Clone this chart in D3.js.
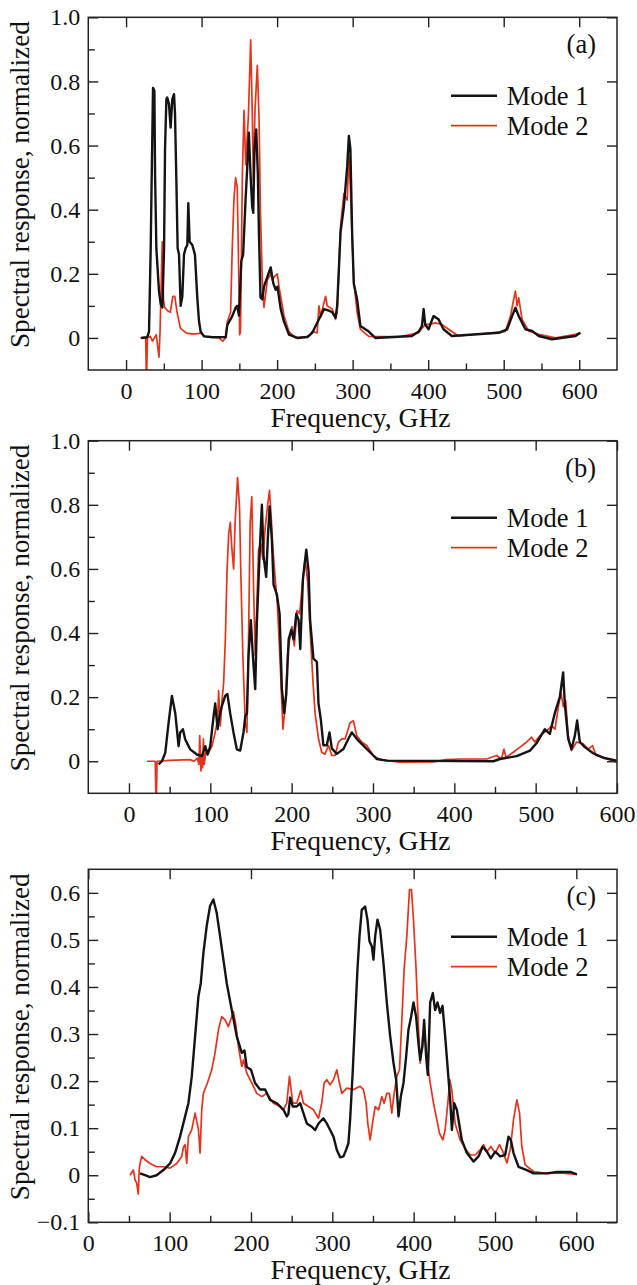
<!DOCTYPE html>
<meta charset="utf-8">
<style>
    body { margin: 0; background: #fff; }
    svg text { font-family: "Liberation Serif", "DejaVu Serif", Tinos, "Times New Roman", Times, serif; fill: #111; }
    .frame { fill: none; stroke: #222; stroke-width: 1.5px; }
    .axis path { display: none; }
    .axis line { stroke: #222; stroke-width: 1.4px; }
    .axis text { font-size: 24px; }
    .mode1 { fill: none; stroke: #141414; stroke-width: 2.4px; stroke-linejoin: round; }
    .mode2 { fill: none; stroke: #e8321c; stroke-width: 1.7px; stroke-linejoin: round; }
</style>
<svg width="637" height="1285"></svg>
<script src="https://cdn.jsdelivr.net/npm/d3@7"></script>
<script>

    // tick values
    const xTicksMajor = [0, 100, 200, 300, 400, 500, 600];
    const xTicksMinor = [50, 150, 250, 350, 450, 550];
    const yTicksAB = [0, 0.2, 0.4, 0.6, 0.8, 1.0];
    const yTicksMinorAB = [0.1, 0.3, 0.5, 0.7, 0.9];
    const yTicksC = [-0.1, 0, 0.1, 0.2, 0.3, 0.4, 0.5, 0.6];
    const yTicksMinorC = [-0.05, 0.05, 0.15, 0.25, 0.35, 0.45, 0.55];

    const modeNames = ["Mode 1", "Mode 2"];
    const panelLabels = ["(a)", "(b)", "(c)"];

    // (a) Mode 1: [frequency GHz, response]
    const specA1 = [[20,0],[28,0.002],[30.4,0.02],[32.6,0.28],[34,0.51],[35.7,0.78],[37.5,0.77],[38.4,0.51],[40.1,0.28],
        [43.6,0.146],[45.9,0.105],[48.1,0.095],[50.3,0.28],[51.6,0.59],[53.4,0.745],[54.6,0.75],[56.8,0.73],[59,0.656],
        [61.2,0.745],[63.5,0.76],[64.8,0.7],[66.6,0.49],[68.3,0.28],[70.1,0.26],[72.3,0.1],[74.5,0.13],[76.7,0.26],
        [78.9,0.28],[81.1,0.29],[82.4,0.42],[84.2,0.3],[87.7,0.29],[91.2,0.26],[94.3,0.126],[96.5,0.054],[98.7,0.02],
        [103.1,0.005],[115,0.002],[132,0.003],[134,0.04],[140.6,0.068],[145,0.094],[147,0.1],[149.5,0.07],[152.6,0.24],
        [155,0.26],[158.2,0.43],[160.4,0.53],[162.6,0.64],[164.8,0.51],[167,0.41],[168.4,0.39],[170,0.59],[172.3,0.65],
        [174.5,0.51],[175.9,0.33],[178,0.126],[180.4,0.12],[182.6,0.16],[187,0.19],[191.5,0.22],[195,0.17],[198.1,0.15],
        [200.4,0.16],[204.8,0.09],[209.2,0.05],[215.8,0.01],[226.9,0],[240,0.003],[246.5,0.016],[255.4,0.058],[257.6,0.068],
        [262,0.09],[268.6,0.085],[273,0.08],[277.3,0.063],[279.5,0.1],[284,0.33],[288.4,0.41],[292.8,0.535],[295,0.63],
        [297,0.59],[299.3,0.33],[301.5,0.17],[305.9,0.12],[310.3,0.037],[321.3,0.02],[330,0],[378.5,0.006],[387.3,0.02],
        [391.7,0.037],[394,0.09],[396,0.042],[400.5,0.027],[407,0.068],[413.7,0.058],[420.3,0.027],[431.3,0.006],
        [493.4,0.016],[504.5,0.027],[511.1,0.068],[515.5,0.094],[519.9,0.068],[528.8,0.027],[537.5,0.022],[546.4,0.006],
        [564,-0.004],[595,0.006],[601.4,0.016]];

    // (a) Mode 2
    const specA2 = [[19,0],[26,0.002],[27,-0.15],[28.3,0],[32,0.005],[35,-0.01],[40,0.01],[43.6,-0.06],[45,0.02],
        [47.9,0.3],[49.5,0.12],[51,0.095],[55,0.085],[58.5,0.08],[62,0.13],[64.5,0.13],[67.5,0.08],[72,0.03],[80,0.015],
        [90,0.012],[99,0.015],[105,0.005],[115,0.003],[123,0],[128,-0.01],[132,0],[134,0.05],[138.4,0.08],[140.6,0.28],
        [142.8,0.43],[145,0.5],[147.2,0.47],[148.6,0.28],[150.4,0.01],[151.5,0.02],[154,0.51],[156.2,0.71],[158.4,0.54],
        [161.9,0.69],[165,0.93],[167.2,0.69],[168.5,0.49],[170.7,0.71],[173.8,0.85],[176,0.69],[178,0.385],[180.4,0.18],
        [182.6,0.095],[187,0.18],[191.5,0.2],[193.7,0.18],[195.9,0.19],[200.3,0.2],[202.5,0.16],[209,0.07],[215.6,0.02],
        [224.4,0],[242,0.005],[246.5,0.02],[253,0.016],[255.4,0.1],[257.6,0.068],[264.2,0.13],[266.4,0.1],[273,0.09],
        [277.3,0.058],[279.5,0.08],[284,0.35],[288.4,0.45],[292.8,0.43],[295,0.567],[297,0.47],[299.3,0.31],[301.5,0.18],
        [305.9,0.08],[310.3,0.027],[321.3,0.005],[360,0.003],[387.3,0.016],[396,0.042],[400.5,0.042],[409.3,0.047],
        [418,0.042],[427,0.027],[440,0.006],[502,0.02],[509,0.068],[513.2,0.12],[515.5,0.146],[517.7,0.1],[519.9,0.125],
        [524.3,0.058],[533,0.022],[546.4,0.011],[568.6,0],[595,0.011],[601.4,0.016]];

    // (b) Mode 1
    const specB1 = [[36.4,-0.01],[40.5,0],[44.6,0.026],[48.7,0.12],[52.8,0.204],[56.9,0.15],[61,0.047],[63,0.09],
        [66.3,0.1],[69.2,0.068],[75.3,0.037],[83.5,0.021],[89.7,0.016],[93.8,0.047],[96.6,0.021],[99.9,0.047],[104,0.14],
        [106,0.18],[109,0.1],[111.3,0.14],[114,0.17],[118.3,0.204],[121,0.21],[124.4,0.15],[128.5,0.09],[132.6,0.037],
        [136.7,0.033],[140.8,0.09],[143,0.14],[145,0.15],[147,0.33],[149.8,0.44],[152.3,0.33],[155.2,0.225],[157.2,0.43],
        [160.5,0.64],[163.4,0.8],[165.5,0.64],[168.7,0.575],[170.8,0.7],[172.9,0.795],[175.7,0.69],[177.8,0.55],
        [181.9,0.52],[185.2,0.46],[188,0.225],[190.9,0.15],[193.4,0.21],[196.3,0.38],[199.6,0.41],[202.4,0.38],
        [205.7,0.46],[208.6,0.44],[210.6,0.35],[213.9,0.57],[218,0.66],[220.9,0.59],[222.7,0.44],[226.8,0.32],[231,0.31],
        [233,0.18],[235.9,0.13],[239,0.05],[243.2,0.05],[246.5,0.09],[249.4,0.04],[255.5,0.023],[263.7,0.038],
        [269.8,0.07],[274,0.09],[280,0.07],[288.2,0.049],[296.4,0.028],[304.6,0.007],[317,0.002],[448,0],[456,0.007],
        [476.6,0.016],[493,0.033],[501,0.056],[511.3,0.1],[517.4,0.085],[523.5,0.15],[529.7,0.2],[533.8,0.277],
        [535.8,0.18],[540,0.07],[544,0.038],[548.2,0.08],[551,0.127],[554.3,0.06],[560.4,0.044],[570.7,0.025],
        [583,0.011],[599.5,0.002]];

    // (b) Mode 2
    const specB2 = [[22,0],[32.3,0],[33.5,-0.15],[34.5,0],[50,0.003],[75,0.005],[80,0],[84,0.01],[86,-0.01],[87,0.08],
        [88.5,-0.03],[89.5,0.02],[90.5,-0.02],[91.5,0.07],[92.5,-0.01],[95,0.037],[97.8,0.026],[102,0.047],[106,0.09],
        [109,0.13],[110.2,0.22],[112.3,0.11],[114.4,0.19],[116.4,0.245],[118.5,0.38],[120.5,0.59],[122.6,0.71],
        [124.6,0.745],[126.6,0.66],[128.7,0.6],[130.5,0.745],[133.5,0.885],[135.9,0.795],[137.5,0.59],[140,0.33],
        [142.9,0.12],[145,0.09],[147,0.38],[149,0.745],[151,0.825],[153.2,0.54],[155.2,0.33],[157.2,0.48],[159.3,0.66],
        [162.1,0.68],[164.6,0.63],[167.5,0.73],[170.3,0.795],[172.8,0.845],[174.9,0.76],[177,0.66],[179.8,0.57],
        [182.7,0.48],[186,0.3],[189.3,0.1],[192.1,0.17],[195,0.33],[197.5,0.38],[200.4,0.42],[203.3,0.36],[206.6,0.47],
        [209.9,0.46],[212.7,0.54],[216.5,0.63],[219.7,0.56],[222.9,0.4],[226.2,0.25],[228.8,0.15],[233,0.07],[237,0.028],
        [241,0.022],[245.3,0.049],[249.4,0.018],[253.5,0.018],[257.6,0.06],[261.7,0.07],[265.8,0.07],[271.9,0.12],
        [276,0.126],[280,0.08],[286,0.06],[292.3,0.049],[300.5,0.018],[308.7,0.005],[333,-0.003],[374,-0.002],
        [390.5,0.005],[407,0.007],[439.7,0.007],[452,0.018],[458,0.007],[461,0.038],[463.5,0.012],[472.5,0.028],
        [480.7,0.044],[489,0.06],[495,0.075],[499,0.06],[505.4,0.08],[513.6,0.095],[519.7,0.11],[523.8,0.1],
        [527.9,0.17],[531,0.215],[534,0.17],[536.8,0.19],[540,0.08],[544,0.033],[550.3,0.06],[558.5,0.054],
        [564.6,0.038],[570,0.049],[574,0.018],[583,0.012],[599.5,-0.003]];

    // (c) Mode 1
    const specC1 = [[63.6,0.004],[69.8,0],[75.9,-0.004],[84,0],[92.3,0.011],[100.5,0.025],[106.6,0.047],[112.8,0.082],
        [119,0.125],[123.1,0.153],[127.2,0.21],[131.3,0.295],[135.4,0.38],[138.3,0.408],[141.5,0.472],[145.6,0.53],
        [149.7,0.572],[153.8,0.586],[157.9,0.557],[162,0.508],[166.1,0.458],[170.2,0.408],[176.4,0.351],[182.5,0.295],
        [188.7,0.26],[192,0.265],[194.8,0.23],[200.1,0.224],[205,0.196],[211.2,0.182],[217.4,0.182],[223.5,0.16],
        [231.7,0.153],[239.9,0.139],[244,0.125],[246,0.13],[248.1,0.165],[251.4,0.146],[256.3,0.146],[260.4,0.153],
        [264.5,0.132],[268.6,0.11],[274.8,0.103],[278.9,0.096],[283,0.11],[289.1,0.121],[293.2,0.11],[297.3,0.096],
        [301.4,0.082],[305.5,0.054],[309.6,0.038],[313.7,0.04],[316.9,0.054],[319.8,0.068],[321.9,0.118],[325.2,0.224],
        [328,0.33],[330.9,0.437],[333.4,0.508],[336.2,0.564],[340.3,0.571],[343.2,0.543],[345.7,0.497],[348.6,0.486],
        [350.6,0.458],[352.7,0.508],[355.5,0.543],[358.8,0.522],[362.9,0.451],[367,0.367],[371.1,0.296],[375.2,0.239],
        [378.5,0.203],[381.4,0.125],[384.2,0.167],[387.5,0.196],[390.8,0.253],[393.6,0.309],[396.9,0.337],[399.8,0.367],
        [403,0.337],[405.9,0.28],[408,0.245],[410.8,0.274],[412.9,0.33],[415.3,0.253],[417.4,0.213],[420.3,0.367],
        [423.6,0.387],[426.4,0.351],[429.3,0.367],[432.6,0.345],[435.5,0.36],[438.7,0.296],[442,0.224],[444.9,0.16],
        [447,0.096],[449.8,0.153],[453.1,0.139],[457.2,0.096],[459.2,0.075],[465.4,0.047],[473.6,0.029],[479.7,0.04],
        [485,0.061],[490,0.05],[494.9,0.036],[500.3,0.05],[506.4,0.04],[512.5,0.043],[516.6,0.082],[519.5,0.075],
        [522.8,0.047],[528.9,0.018],[539.2,0.011],[547.4,0.004],[563.8,0.004],[576.1,0.007],[592.5,0.007],[600.7,0.002]];

    // (c) Mode 2
    const specC2 = [[51.3,0],[55.4,0.011],[57.5,-0.01],[59.5,-0.017],[61.5,-0.04],[62.5,0.01],[63.6,0.025],[65.6,0.04],
        [69.8,0.033],[75.9,0.025],[84,0.018],[92.3,0.018],[100.5,0.015],[108.7,0.025],[114.9,0.04],[117,0.06],[119,0.065],
        [121,0.025],[123.1,0.082],[127.2,0.097],[131.3,0.132],[135.4,0.097],[137.4,0.047],[139.5,0.14],[141.5,0.174],
        [146.4,0.196],[151.8,0.224],[155.8,0.26],[160,0.309],[164,0.337],[168.1,0.33],[172.2,0.316],[176.4,0.337],
        [178.4,0.348],[181.7,0.316],[184.5,0.274],[188.7,0.231],[190.7,0.245],[194.8,0.217],[201,0.196],[207.1,0.174],
        [213.3,0.167],[219.4,0.174],[227.6,0.153],[235.8,0.146],[239.9,0.139],[244,0.153],[247.3,0.21],[251.4,0.153],
        [256.3,0.153],[261.2,0.18],[264.5,0.153],[270.7,0.146],[276.8,0.139],[283,0.121],[287,0.153],[290,0.196],
        [293.2,0.203],[297.3,0.192],[301.4,0.203],[305.5,0.224],[308.8,0.196],[311.6,0.174],[317.8,0.185],[326,0.182],
        [334.2,0.189],[338.3,0.182],[341.6,0.153],[343.6,0.11],[346.5,0.075],[349.4,0.11],[352.7,0.146],[356.8,0.139],
        [360.9,0.167],[363.7,0.153],[367,0.174],[370.3,0.174],[373.1,0.132],[376,0.174],[379.3,0.21],[382.6,0.224],
        [385.5,0.33],[388.3,0.437],[391.6,0.508],[394.9,0.607],[397.3,0.607],[399.8,0.543],[403,0.437],[405.5,0.33],
        [408,0.238],[411.3,0.296],[414.1,0.288],[417,0.238],[420.3,0.196],[424.4,0.153],[428.5,0.118],[431.8,0.089],
        [435.9,0.075],[438.7,0.096],[442,0.153],[444.5,0.203],[447,0.18],[451,0.11],[457.2,0.075],[463.3,0.057],
        [469.5,0.043],[475.6,0.043],[481.8,0.054],[485.9,0.065],[490,0.05],[494.9,0.061],[500.3,0.047],[505.6,0.065],
        [510.5,0.047],[514.6,0.026],[518.7,0.054],[522.8,0.118],[526.9,0.16],[530.2,0.132],[533,0.061],[537.1,0.022],
        [547.4,0.008],[563.8,0.004],[580.2,0.005],[600.7,0.002]];

    var serif = "'Liberation Serif', 'DejaVu Serif', Tinos, 'Times New Roman', Times, serif";

    var svg = d3.select("svg");

    var left = 88.3, right = 617;

    var panels = [
        { top: 17.3, bottom: 370, xDom: [-50, 650], yDom: [-0.1, 1.0], yMajor: yTicksAB, yMinor: yTicksMinorAB,
          series: [specA1, specA2], legendDy: 78.4 },
        { top: 440.7, bottom: 793.3, xDom: [-50, 600], yDom: [-0.1, 1.0], yMajor: yTicksAB, yMinor: yTicksMinorAB,
          series: [specB1, specB2], legendDy: 77 },
        { top: 869.3, bottom: 1222.3, xDom: [0, 650], yDom: [-0.1, 0.65], yMajor: yTicksC, yMinor: yTicksMinorC,
          series: [specC1, specC2], legendDy: 67.4 }
    ];

    function fmtY(d) {
        if (Math.abs(d) < 1e-9) return "0";
        return (d < 0 ? "\u2212" : "") + Math.abs(d).toFixed(1);
    }

    function styleAxis(sel) {
        sel.attr("font-family", serif).attr("font-size", 24);
        sel.selectAll("text").attr("font-family", serif).style("font-family", serif).style("font-size", "24px");
    }

    panels.forEach(function(p, i) {
        var x = d3.scaleLinear().domain(p.xDom).range([left, right]);
        var y = d3.scaleLinear().domain(p.yDom).range([p.bottom, p.top]);
        var g = svg.append("g");

        // clip curves to the frame
        var clipId = "clip" + i;
        svg.append("clipPath").attr("id", clipId)
            .append("rect")
                .attr("x", left).attr("y", p.top)
                .attr("width", right - left).attr("height", p.bottom - p.top);

        var line = d3.line()
            .x(function(d) { return x(d[0]); })
            .y(function(d) { return y(d[1]); });

        g.append("path").datum(p.series[1]).attr("class", "mode2")
            .attr("clip-path", "url(#" + clipId + ")").attr("d", line);
        g.append("path").datum(p.series[0]).attr("class", "mode1")
            .attr("clip-path", "url(#" + clipId + ")").attr("d", line);

        // inward ticks on all four sides
        g.append("g").attr("class", "axis").attr("transform", "translate(0," + p.bottom + ")")
            .call(d3.axisBottom(x).tickValues(xTicksMajor).tickSize(-10).tickPadding(12).tickFormat(d3.format("d")))
            .call(styleAxis);
        g.append("g").attr("class", "axis").attr("transform", "translate(0," + p.bottom + ")")
            .call(d3.axisBottom(x).tickValues(xTicksMinor).tickSize(-6.5).tickFormat(""));
        g.append("g").attr("class", "axis").attr("transform", "translate(0," + p.top + ")")
            .call(d3.axisTop(x).tickValues(xTicksMajor).tickSize(-10).tickFormat(""));

        g.append("g").attr("class", "axis").attr("transform", "translate(" + left + ",0)")
            .call(d3.axisLeft(y).tickValues(p.yMajor).tickSize(-10).tickPadding(8).tickFormat(fmtY))
            .call(styleAxis);
        g.append("g").attr("class", "axis").attr("transform", "translate(" + left + ",0)")
            .call(d3.axisLeft(y).tickValues(p.yMinor).tickSize(-6.5).tickFormat(""));
        g.append("g").attr("class", "axis").attr("transform", "translate(" + right + ",0)")
            .call(d3.axisRight(y).tickValues(p.yMajor).tickSize(-10).tickFormat(""));

        g.append("rect").attr("class", "frame")
            .attr("x", left).attr("y", p.top)
            .attr("width", right - left).attr("height", p.bottom - p.top);

        // axis titles
        g.append("text")
            .attr("x", 360.5).attr("y", p.bottom + 57)
            .attr("text-anchor", "middle")
            .style("font-family", serif)
            .style("font-size", "27.5px")
            .text("Frequency, GHz");

        g.append("text")
            .attr("transform", "translate(29," + ((p.top + p.bottom) / 2 - 9) + ") rotate(-90)")
            .attr("text-anchor", "middle")
            .style("font-family", serif)
            .style("font-size", "27.2px")
            .text("Spectral response, normalized");

        // panel label
        g.append("text")
            .attr("x", 596).attr("y", p.top + 36)
            .attr("text-anchor", "end")
            .style("font-family", serif)
            .style("font-size", "26.5px")
            .text(panelLabels[i]);

        // legend
        modeNames.forEach(function(name, k) {
            var ly = p.top + p.legendDy + k * 30;
            g.append("line")
                .attr("class", k === 0 ? "mode1" : "mode2")
                .attr("x1", 451).attr("x2", 497)
                .attr("y1", ly).attr("y2", ly);
            g.append("text")
                .attr("x", 506.7).attr("y", ly + 9.6)
                .style("font-family", serif)
                .style("font-size", "26.5px")
                .text(name);
        });
    });

</script>
